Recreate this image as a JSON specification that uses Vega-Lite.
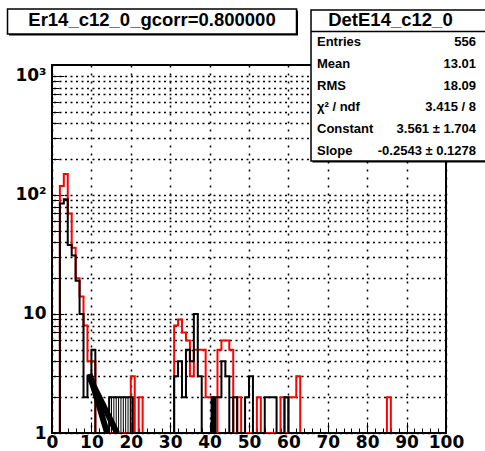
{
  "$schema": "https://vega.github.io/schema/vega-lite/v6.json",
  "width": 394,
  "height": 368,
  "autosize": {"type": "none"},
  "padding": {"left": 52, "top": 65, "right": 39, "bottom": 18},
  "background": "white",
  "config": {"view": {"stroke": "black", "strokeWidth": 2}},
  "datasets": {
    "red": [
      {"x":0,"n":0},{"x":1,"n":0},{"x":2,"n":119},{"x":3,"n":150},{"x":4,"n":70},{"x":5,"n":36},{"x":6,"n":20},{"x":7,"n":14},{"x":8,"n":8},{"x":9,"n":4},
      {"x":10,"n":4},{"x":11,"n":0},{"x":12,"n":0},{"x":13,"n":0},{"x":14,"n":0},{"x":15,"n":0},{"x":16,"n":0},{"x":17,"n":0},{"x":18,"n":0},{"x":19,"n":0},
      {"x":20,"n":3},{"x":21,"n":0},{"x":22,"n":2},{"x":23,"n":0},{"x":24,"n":0},{"x":25,"n":0},{"x":26,"n":0},{"x":27,"n":0},{"x":28,"n":0},{"x":29,"n":0},
      {"x":30,"n":0},{"x":31,"n":8},{"x":32,"n":9},{"x":33,"n":7},{"x":34,"n":6},{"x":35,"n":3},{"x":36,"n":5},{"x":37,"n":5},{"x":38,"n":5},{"x":39,"n":2},
      {"x":40,"n":2},{"x":41,"n":0},{"x":42,"n":5},{"x":43,"n":6},{"x":44,"n":6},{"x":45,"n":5},{"x":46,"n":0},{"x":47,"n":2},{"x":48,"n":0},{"x":49,"n":0},
      {"x":50,"n":0},{"x":51,"n":0},{"x":52,"n":2},{"x":53,"n":0},{"x":54,"n":0},{"x":55,"n":0},{"x":56,"n":0},{"x":57,"n":0},{"x":58,"n":2},{"x":59,"n":0},
      {"x":60,"n":2},{"x":61,"n":2},{"x":62,"n":3},{"x":63,"n":0},{"x":64,"n":0},{"x":65,"n":0},{"x":66,"n":0},{"x":67,"n":0},{"x":68,"n":0},{"x":69,"n":0},
      {"x":70,"n":0},{"x":71,"n":0},{"x":72,"n":0},{"x":73,"n":0},{"x":74,"n":0},{"x":75,"n":0},{"x":76,"n":0},{"x":77,"n":0},{"x":78,"n":0},{"x":79,"n":0},
      {"x":80,"n":0},{"x":81,"n":0},{"x":82,"n":0},{"x":83,"n":0},{"x":84,"n":0},{"x":85,"n":2},{"x":86,"n":0},{"x":87,"n":0},{"x":88,"n":0},{"x":89,"n":0},
      {"x":90,"n":0},{"x":91,"n":0},{"x":92,"n":0},{"x":93,"n":0},{"x":94,"n":0},{"x":95,"n":0},{"x":96,"n":0},{"x":97,"n":0},{"x":98,"n":0},{"x":99,"n":0},
      {"x":100,"n":0}
    ],
    "black": [
      {"x":0,"n":0},{"x":1,"n":0},{"x":2,"n":85},{"x":3,"n":92},{"x":4,"n":38},{"x":5,"n":31},{"x":6,"n":19},{"x":7,"n":10},{"x":8,"n":2},{"x":9,"n":3},
      {"x":10,"n":5},{"x":11,"n":0},{"x":12,"n":0},{"x":13,"n":0},{"x":14,"n":0},
      {"x":14.5,"n":2},{"x":20.5,"n":0},
      {"x":21,"n":0},{"x":22,"n":0},{"x":23,"n":0},{"x":24,"n":0},{"x":25,"n":0},{"x":26,"n":0},{"x":27,"n":0},{"x":28,"n":0},{"x":29,"n":0},
      {"x":30,"n":0},{"x":31,"n":3},{"x":32,"n":4},{"x":33,"n":2},{"x":34,"n":5},{"x":35,"n":4},{"x":36,"n":10},{"x":37,"n":3},{"x":38,"n":0},{"x":39,"n":0},
      {"x":40,"n":0},{"x":40.5,"n":2},{"x":41,"n":0},{"x":41.5,"n":2},{"x":42,"n":2},{"x":43,"n":4},{"x":44,"n":3},{"x":45,"n":0},{"x":46,"n":2},{"x":47,"n":0},{"x":48,"n":0},{"x":49,"n":2},
      {"x":50,"n":3},{"x":51,"n":0},{"x":52,"n":0},{"x":53,"n":0},{"x":54,"n":2},{"x":55,"n":2},{"x":56,"n":2},{"x":57,"n":0},{"x":58,"n":0},{"x":59,"n":2},
      {"x":60,"n":0},{"x":61,"n":0},{"x":62,"n":0},{"x":63,"n":0},{"x":64,"n":0},{"x":65,"n":0},{"x":66,"n":0},{"x":67,"n":0},{"x":68,"n":0},{"x":69,"n":0},
      {"x":70,"n":0},{"x":71,"n":0},{"x":72,"n":0},{"x":73,"n":0},{"x":74,"n":0},{"x":75,"n":0},{"x":76,"n":0},{"x":77,"n":0},{"x":78,"n":0},{"x":79,"n":0},
      {"x":80,"n":0},{"x":81,"n":0},{"x":82,"n":0},{"x":83,"n":0},{"x":84,"n":0},{"x":85,"n":0},{"x":86,"n":0},{"x":87,"n":0},{"x":88,"n":0},{"x":89,"n":0},
      {"x":90,"n":0},{"x":91,"n":0},{"x":92,"n":0},{"x":93,"n":0},{"x":94,"n":0},{"x":95,"n":0},{"x":96,"n":0},{"x":97,"n":0},{"x":98,"n":0},{"x":99,"n":0},
      {"x":100,"n":0}
    ],
    "black_fine": [
      {"x":14.5,"n":2},{"x":15.1,"n":0},{"x":15.7,"n":2},{"x":16.3,"n":0},{"x":16.9,"n":2},{"x":17.5,"n":0},
      {"x":18.1,"n":2},{"x":18.7,"n":0},{"x":19.3,"n":2},{"x":19.9,"n":0},{"x":20.5,"n":0}
    ],
    "fit": [
      {"x":9.5,"y":3.14,"part":"a"},{"x":10,"y":2.77,"part":"a"},{"x":11,"y":2.15,"part":"a"},{"x":12,"y":1.67,"part":"a"},{"x":13,"y":1.29,"part":"a"},{"x":14,"y":1.0,"part":"a"},
      {"x":9.6,"y":2.9,"part":"b"},{"x":16.5,"y":1.0,"part":"b"}
    ],
    "title": [{"text": "Er14_c12_0_gcorr=0.800000"}],
    "header": [{"text": "DetE14_c12_0"}],
    "stats": [
      {"label":"Entries","value":"556","row":0},
      {"label":"Mean","value":"13.01","row":1},
      {"label":"RMS","value":"18.09","row":2},
      {"label":"χ² / ndf","value":"3.415 / 8","row":3},
      {"label":"Constant","value":"3.561 ± 1.704","row":4},
      {"label":"Slope","value":"-0.2543 ± 0.1278","row":5}
    ]
  },
  "resolve": {"scale": {"x": "independent", "y": "independent"}, "axis": {"x": "independent", "y": "independent"}},
  "layer": [
    {
      "data": {"name": "red"},
      "mark": {"type": "line", "interpolate": "step-after", "color": "#ff0000", "strokeWidth": 2, "clip": true, "invalid": "show"},
      "encoding": {
        "x": {"field": "x", "type": "quantitative", "scale": {"type": "linear", "domain": [0, 100], "nice": false, "zero": false},
          "axis": {"orient": "bottom", "values": [0,10,20,30,40,50,60,70,80,90,100], "tickSize": -11, "tickColor": "black", "tickWidth": 1, "domain": false,
            "grid": true, "gridColor": "black", "gridDash": [2,6], "gridWidth": 1.5, "gridOpacity": 1,
            "labelFont": "DejaVu Sans", "labelFontWeight": "bold", "labelFontSize": 17, "labelColor": "black", "labelPadding": 12,
            "labelFlush": false, "labelOverlap": false, "title": null, "format": "d"}},
        "y": {"field": "n", "type": "quantitative", "scale": {"type": "log", "domain": [1, 1237], "nice": false, "clamp": true},
          "axis": {"orient": "left", "values": [1,10,100,1000], "tickSize": -12, "tickColor": "black", "tickWidth": 1, "domain": false, "grid": false,
            "labelExpr": "datum.value >= 1000 ? '10³' : datum.value >= 100 ? '10²' : datum.value >= 10 ? '10' : '1'",
            "labelFont": "DejaVu Sans", "labelFontWeight": "bold", "labelFontSize": 17, "labelColor": "black", "labelPadding": 18,
            "labelFlush": false, "labelOverlap": false, "title": null}}
      }
    },
    {
      "data": {"name": "black"},
      "mark": {"type": "line", "interpolate": "step-after", "color": "black", "strokeWidth": 2, "clip": true, "invalid": "show"},
      "encoding": {
        "x": {"field": "x", "type": "quantitative", "scale": {"type": "linear", "domain": [0, 100], "nice": false, "zero": false},
          "axis": {"orient": "top", "offset": -368, "values": [0,2,4,6,8,10,12,14,16,18,20,22,24,26,28,30,32,34,36,38,40,42,44,46,48,50,52,54,56,58,60,62,64,66,68,70,72,74,76,78,80,82,84,86,88,90,92,94,96,98,100],
            "tickSize": 5, "tickColor": "black", "tickWidth": 1, "domain": false, "grid": false, "labels": false, "title": null}},
        "y": {"field": "n", "type": "quantitative", "scale": {"type": "log", "domain": [1, 1237], "nice": false, "clamp": true},
          "axis": {"orient": "right", "offset": -394, "values": [1,2,3,4,5,6,7,8,9,10,20,30,40,50,60,70,80,90,100,200,300,400,500,600,700,800,900,1000],
            "tickSize": 7, "tickColor": "black", "tickWidth": 1, "domain": false, "labels": false, "title": null,
            "grid": true, "gridColor": "black", "gridDash": [2,3.5], "gridWidth": 1.5, "gridOpacity": 1}}
      }
    },
    {
      "data": {"name": "black_fine"},
      "mark": {"type": "line", "interpolate": "step-after", "color": "black", "strokeWidth": 1, "clip": true, "invalid": "show"},
      "encoding": {
        "x": {"field": "x", "type": "quantitative", "scale": {"type": "linear", "domain": [0, 100], "nice": false, "zero": false}, "axis": null},
        "y": {"field": "n", "type": "quantitative", "scale": {"type": "log", "domain": [1, 1237], "nice": false, "clamp": true}, "axis": null}
      }
    },
    {
      "data": {"name": "fit"},
      "mark": {"type": "line", "color": "black", "strokeWidth": 6, "clip": true},
      "encoding": {
        "x": {"field": "x", "type": "quantitative", "scale": {"type": "linear", "domain": [0, 100], "nice": false, "zero": false}, "axis": null},
        "y": {"field": "y", "type": "quantitative", "scale": {"type": "log", "domain": [1, 1237], "nice": false}, "axis": null},
        "detail": {"field": "part", "type": "nominal"}
      }
    },
    {
      "data": {"name": "title"},
      "mark": {"type": "rect", "fill": "black"},
      "encoding": {
        "x": {"datum": -10.91, "type": "quantitative", "scale": {"type": "linear", "domain": [0, 100], "nice": false, "zero": false}, "axis": null},
        "x2": {"datum": 62.44},
        "y": {"datum": 3551, "type": "quantitative", "scale": {"type": "log", "domain": [1, 1237], "nice": false}, "axis": null},
        "y2": {"datum": 2189}
      }
    },
    {
      "data": {"name": "title"},
      "mark": {"type": "rect", "fill": "white", "stroke": "black", "strokeWidth": 1.5},
      "encoding": {
        "x": {"datum": -11.29, "type": "quantitative", "scale": {"type": "linear", "domain": [0, 100], "nice": false, "zero": false}, "axis": null},
        "x2": {"datum": 62.06},
        "y": {"datum": 3656, "type": "quantitative", "scale": {"type": "log", "domain": [1, 1237], "nice": false}, "axis": null},
        "y2": {"datum": 2254}
      }
    },
    {
      "data": {"name": "title"},
      "mark": {"type": "text", "font": "Liberation Sans", "fontWeight": "bold", "fontSize": 18.5, "color": "black", "align": "center", "baseline": "middle"},
      "encoding": {
        "x": {"datum": 25.38, "type": "quantitative", "scale": {"type": "linear", "domain": [0, 100], "nice": false, "zero": false}, "axis": null},
        "y": {"datum": 2955, "type": "quantitative", "scale": {"type": "log", "domain": [1, 1237], "nice": false}, "axis": null},
        "text": {"field": "text", "type": "nominal"}
      }
    },
    {
      "data": {"name": "header"},
      "mark": {"type": "rect", "fill": "black"},
      "encoding": {
        "x": {"datum": 66.12, "type": "quantitative", "scale": {"type": "linear", "domain": [0, 100], "nice": false, "zero": false}, "axis": null},
        "x2": {"datum": 111.29},
        "y": {"datum": 3483, "type": "quantitative", "scale": {"type": "log", "domain": [1, 1237], "nice": false}, "axis": null},
        "y2": {"datum": 187.6}
      }
    },
    {
      "data": {"name": "header"},
      "mark": {"type": "rect", "fill": "white", "stroke": "black", "strokeWidth": 1.5},
      "encoding": {
        "x": {"datum": 65.74, "type": "quantitative", "scale": {"type": "linear", "domain": [0, 100], "nice": false, "zero": false}, "axis": null},
        "x2": {"datum": 110.91},
        "y": {"datum": 3585, "type": "quantitative", "scale": {"type": "log", "domain": [1, 1237], "nice": false}, "axis": null},
        "y2": {"datum": 193.1}
      }
    },
    {
      "data": {"name": "header"},
      "mark": {"type": "rule", "color": "black", "strokeWidth": 1.5},
      "encoding": {
        "x": {"datum": 65.74, "type": "quantitative", "scale": {"type": "linear", "domain": [0, 100], "nice": false, "zero": false}, "axis": null},
        "x2": {"datum": 110.91},
        "y": {"datum": 2365, "type": "quantitative", "scale": {"type": "log", "domain": [1, 1237], "nice": false}, "axis": null}
      }
    },
    {
      "data": {"name": "header"},
      "mark": {"type": "text", "font": "Liberation Sans", "fontWeight": "bold", "fontSize": 18.5, "color": "black", "align": "center", "baseline": "middle"},
      "encoding": {
        "x": {"datum": 85.9, "type": "quantitative", "scale": {"type": "linear", "domain": [0, 100], "nice": false, "zero": false}, "axis": null},
        "y": {"datum": 2955, "type": "quantitative", "scale": {"type": "log", "domain": [1, 1237], "nice": false}, "axis": null},
        "text": {"field": "text", "type": "nominal"}
      }
    },
    {
      "data": {"name": "stats"},
      "mark": {"type": "text", "font": "Liberation Sans", "fontWeight": "bold", "fontSize": 13, "color": "black", "align": "left", "baseline": "middle"},
      "encoding": {
        "x": {"datum": 67.26, "type": "quantitative", "scale": {"type": "linear", "domain": [0, 100], "nice": false, "zero": false}, "axis": null},
        "y": {"field": "row", "type": "quantitative", "scale": {"type": "linear", "domain": [0, 5], "range": [-23, 86], "nice": false, "zero": false}, "axis": null},
        "text": {"field": "label", "type": "nominal"}
      }
    },
    {
      "data": {"name": "stats"},
      "mark": {"type": "text", "font": "Liberation Sans", "fontWeight": "bold", "fontSize": 13, "color": "black", "align": "right", "baseline": "middle"},
      "encoding": {
        "x": {"datum": 107.61, "type": "quantitative", "scale": {"type": "linear", "domain": [0, 100], "nice": false, "zero": false}, "axis": null},
        "y": {"field": "row", "type": "quantitative", "scale": {"type": "linear", "domain": [0, 5], "range": [-23, 86], "nice": false, "zero": false}, "axis": null},
        "text": {"field": "value", "type": "nominal"}
      }
    }
  ]
}
